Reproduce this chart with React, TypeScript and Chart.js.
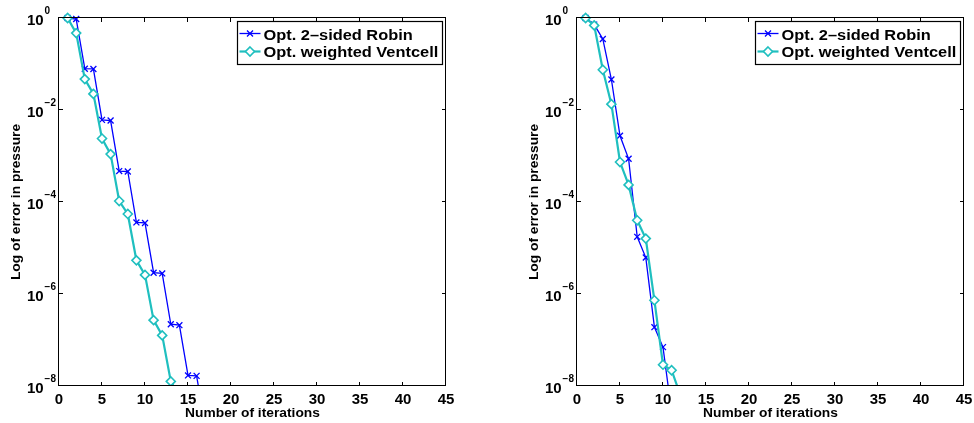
import React, { useEffect, useRef } from 'react';
import { Chart, registerables } from 'chart.js';

Chart.register(...registerables);

// ---- data ----
const robinIterLeft = [1, 2, 3, 4, 5, 6, 7, 8, 9, 10, 11, 12, 13, 14, 15, 16, 17];
const robinErrLeft = [1.0, 0.95, 0.079, 0.078, 6.1e-3, 5.9e-3, 4.7e-4, 4.6e-4, 3.6e-5, 3.5e-5, 2.9e-6, 2.8e-6, 2.2e-7, 2.1e-7, 1.7e-8, 1.66e-8, 1.35e-9];
const ventIterLeft = [1, 2, 3, 4, 5, 6, 7, 8, 9, 10, 11, 12, 13, 14];
const ventErrLeft = [1.0, 0.47, 0.047, 0.0224, 2.4e-3, 1.1e-3, 1.05e-4, 5.5e-5, 5.4e-6, 2.6e-6, 2.7e-7, 1.26e-7, 1.26e-8, 5.9e-9];

const robinIterRight = [1, 2, 3, 4, 5, 6, 7, 8, 9, 10, 11];
const robinErrRight = [1.0, 0.72, 0.35, 0.046, 2.75e-3, 8.7e-4, 1.75e-5, 6.2e-6, 1.9e-7, 7.0e-8, 2.7e-9];
const ventIterRight = [1, 2, 3, 4, 5, 6, 7, 8, 9, 10, 11, 12];
const ventErrRight = [1.0, 0.69, 0.075, 0.0134, 7.4e-4, 2.35e-4, 4.0e-5, 1.6e-5, 7.3e-7, 2.9e-8, 2.2e-8, 6.5e-9];

const xTicks = [0, 5, 10, 15, 20, 25, 30, 35, 40, 45];
const yTickExps = [0, -2, -4, -6, -8];
const seriesLabels = ['Opt. 2\u2013sided Robin', 'Opt. weighted Ventcell'];
const xTitle = 'Number of iterations';
const yTitle = 'Log of error in pressure';

const BLUE = '#0000ff';
const CYAN = '#1fbfbf';
const FONT = "'Liberation Sans', Arial, Helvetica, sans-serif";

function txt(ctx: CanvasRenderingContext2D, s: string, x: number, y: number, size: number, align: CanvasTextAlign, sx = 1, rot = 0) {
  ctx.save();
  ctx.translate(x, y);
  if (rot) ctx.rotate(rot);
  ctx.scale(sx, 1);
  ctx.font = `bold ${size}px ${FONT}`;
  ctx.textAlign = align;
  ctx.textBaseline = 'alphabetic';
  ctx.fillStyle = '#000';
  ctx.fillText(s, 0, 0);
  ctx.restore();
}

function drawCross(ctx: CanvasRenderingContext2D, cx: number, cy: number) {
  ctx.save();
  ctx.strokeStyle = BLUE;
  ctx.lineWidth = 1.3;
  ctx.beginPath();
  ctx.moveTo(cx - 3, cy - 3); ctx.lineTo(cx + 3, cy + 3);
  ctx.moveTo(cx - 3, cy + 3); ctx.lineTo(cx + 3, cy - 3);
  ctx.stroke();
  ctx.restore();
}

function drawDiamond(ctx: CanvasRenderingContext2D, cx: number, cy: number) {
  const r = 4.5;
  ctx.save();
  ctx.strokeStyle = CYAN;
  ctx.fillStyle = '#ffffff';
  ctx.lineWidth = 1.6;
  ctx.beginPath();
  ctx.moveTo(cx, cy - r); ctx.lineTo(cx + r, cy); ctx.lineTo(cx, cy + r); ctx.lineTo(cx - r, cy);
  ctx.closePath();
  ctx.fill();
  ctx.stroke();
  ctx.restore();
}

const decorPlugin = {
  id: 'matlabDecor',
  afterDraw(chart: any) {
    const { ctx, chartArea: a, scales } = chart;
    const xs = scales.x, ys = scales.y;
    const L = Math.round(a.left), R = Math.round(a.right), T = Math.round(a.top), B = Math.round(a.bottom);
    ctx.save();
    ctx.strokeStyle = '#000';
    ctx.lineWidth = 1;
    ctx.strokeRect(L - 0.5, T - 0.5, R - L, B - T);
    ctx.beginPath();
    for (const v of xTicks) {
      const px = Math.round(xs.getPixelForValue(v)) - 0.5;
      ctx.moveTo(px, B); ctx.lineTo(px, B - 4);
      ctx.moveTo(px, T); ctx.lineTo(px, T + 4);
    }
    for (const e of yTickExps) {
      const py = Math.round(ys.getPixelForValue(Math.pow(10, e))) - 0.5;
      ctx.moveTo(L, py); ctx.lineTo(L + 4, py);
      ctx.moveTo(R, py); ctx.lineTo(R - 4, py);
    }
    ctx.stroke();
    ctx.restore();

    for (const v of xTicks) {
      const px = xs.getPixelForValue(v);
      txt(ctx, String(v), px, B + 18.3, 15, 'center');
    }
    for (const e of yTickExps) {
      const py = ys.getPixelForValue(Math.pow(10, e));
      txt(ctx, '10', L - 15.4, py + 7, 15, 'right');
      txt(ctx, e === 0 ? '0' : '\u2212' + Math.abs(e), L - 14.4, py - 4.5, 10, 'left');
    }
    txt(ctx, xTitle, (L + R) / 2, B + 30.8, 13, 'center', 1.06);
    txt(ctx, yTitle, L - 39.4, (T + B) / 2, 13, 'center', 1.06, -Math.PI / 2);

    // legend
    const lw = 205, lh = 43;
    const lx = R - 208.5, ly = T + 3.5;
    ctx.save();
    ctx.fillStyle = '#fff';
    ctx.fillRect(lx, ly, lw, lh);
    ctx.strokeStyle = '#000';
    ctx.lineWidth = 1.2;
    ctx.strokeRect(lx, ly, lw, lh);
    ctx.restore();
    for (let i = 0; i < 2; i++) {
      const cy = ly + 12 + i * 18;
      const col = i === 0 ? BLUE : CYAN;
      ctx.save();
      ctx.strokeStyle = col;
      ctx.lineWidth = i === 0 ? 1.3 : 2.2;
      ctx.beginPath();
      ctx.moveTo(lx + 2, cy); ctx.lineTo(lx + 23, cy);
      ctx.stroke();
      ctx.restore();
      if (i === 0) drawCross(ctx, lx + 12.5, cy); else drawDiamond(ctx, lx + 12.5, cy);
      txt(ctx, seriesLabels[i], lx + 26, ly + 18 + i * 17.8, 14, 'left', 1.17);
    }
  },
};

function Panel(props: { robinIter: number[]; robinErr: number[]; ventIter: number[]; ventErr: number[]; left: number; yAxisWidth: number; rightPad: number }) {
  const ref = useRef<HTMLCanvasElement | null>(null);
  useEffect(() => {
    if (!ref.current) return;
    const clip = { left: 12, right: 12, top: 12, bottom: 0 };
    const chart = new Chart(ref.current, {
      type: 'line',
      data: {
        datasets: [
          {
            label: seriesLabels[0],
            data: props.robinIter.map((x, i) => ({ x, y: props.robinErr[i] })),
            borderColor: BLUE,
            backgroundColor: BLUE,
            borderWidth: 1.3,
            pointStyle: 'crossRot',
            pointRadius: 4.2,
            pointBorderWidth: 1.3,
            pointBorderColor: BLUE,
            pointBackgroundColor: BLUE,
            tension: 0,
            fill: false,
            clip: clip as any,
            order: 1,
          },
          {
            label: seriesLabels[1],
            data: props.ventIter.map((x, i) => ({ x, y: props.ventErr[i] })),
            borderColor: CYAN,
            backgroundColor: '#ffffff',
            borderWidth: 2.2,
            pointStyle: 'rectRot',
            pointRadius: 4.5,
            pointBorderWidth: 1.6,
            pointBorderColor: CYAN,
            pointBackgroundColor: '#ffffff',
            tension: 0,
            fill: false,
            clip: clip as any,
            order: 0,
          },
        ],
      },
      options: {
        responsive: false,
        maintainAspectRatio: false,
        devicePixelRatio: 1,
        animation: false,
        events: [],
        layout: { padding: { top: 18, right: props.rightPad, left: 0, bottom: 0 } },
        plugins: { legend: { display: false }, tooltip: { enabled: false } },
        scales: {
          x: {
            type: 'linear',
            min: 0,
            max: 45,
            ticks: { display: false },
            grid: { display: false },
            border: { display: false },
            afterFit: (s: any) => { s.height = 37; },
          },
          y: {
            type: 'logarithmic',
            min: 1e-8,
            max: 1,
            ticks: { display: false },
            grid: { display: false },
            border: { display: false },
            afterFit: (s: any) => { s.width = props.yAxisWidth; },
          },
        },
      } as any,
      plugins: [decorPlugin],
    });
    return () => chart.destroy();
  }, []);
  return (
    <canvas
      ref={ref}
      width={487}
      height={423}
      style={{ position: 'absolute', left: props.left, top: 0, width: 487, height: 423, display: 'block' }}
    />
  );
}

export default function App() {
  return (
    <div style={{ position: 'absolute', left: 0, top: 0, width: 974, height: 423, background: '#fff', overflow: 'hidden' }}>
      <Panel robinIter={robinIterLeft} robinErr={robinErrLeft} ventIter={ventIterLeft} ventErr={ventErrLeft} left={0} yAxisWidth={59} rightPad={41} />
      <Panel robinIter={robinIterRight} robinErr={robinErrRight} ventIter={ventIterRight} ventErr={ventErrRight} left={487} yAxisWidth={90} rightPad={10} />
    </div>
  );
}
